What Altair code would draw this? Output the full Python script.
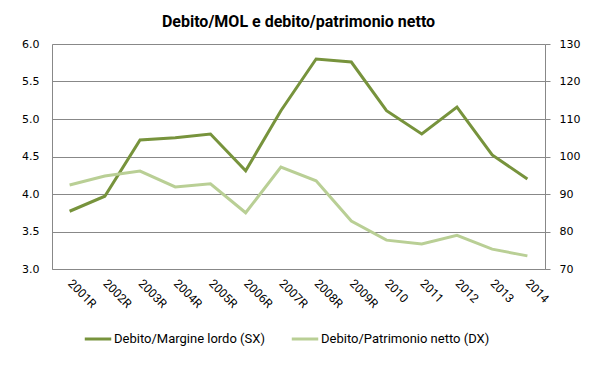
import altair as alt
import pandas as pd

years = ["2001R", "2002R", "2003R", "2004R", "2005R", "2006R", "2007R",
         "2008R", "2009R", "2010", "2011", "2012", "2013", "2014"]
debito_mol = [3.77, 3.97, 4.72, 4.75, 4.80, 4.31, 5.11, 5.80, 5.76, 5.11, 4.80, 5.16, 4.52, 4.20]
debito_pn = [92.4, 94.8, 96.1, 91.9, 92.7, 85.0, 97.2, 93.5, 82.8, 77.7, 76.7, 79.0, 75.3, 73.5]

s1 = "Debito/Margine lordo (SX)"
s2 = "Debito/Patrimonio netto (DX)"
c1 = "#77933C"
c2 = "#B9CF95"

df1 = pd.DataFrame({"anno": years, "valore": debito_mol, "serie": s1})
df2 = pd.DataFrame({"anno": years, "valore": debito_pn, "serie": s2})

color = alt.Color("serie:N", scale=alt.Scale(domain=[s1, s2], range=[c1, c2]),
                  legend=alt.Legend(title=None, orient="none", direction="horizontal",
                                    legendX=31, legendY=280, symbolType="stroke",
                                    symbolStrokeWidth=3, symbolSize=700,
                                    labelFont="Roboto", labelFontSize=13, labelLimit=400,
                                    labelColor="#000000", columnPadding=20, labelOffset=1))

xenc = alt.X("anno:N", sort=years, title=None,
             axis=alt.Axis(labelAngle=45, labelAlign="left", labelBaseline="middle",
                           labelFont="Roboto", labelFontSize=12, labelColor="#000000",
                           ticks=False, domainColor="#888888", labelPadding=12))

left = alt.Chart(df1).mark_line(strokeWidth=3).encode(
    x=xenc,
    y=alt.Y("valore:Q", scale=alt.Scale(domain=[3, 6], nice=False, zero=False), title=None,
            axis=alt.Axis(values=[3, 3.5, 4, 4.5, 5, 5.5, 6], format=".1f", ticks=False,
                          domainColor="#888888", gridColor="#888888", grid=True,
                          labelFont="DejaVu Sans", labelFontSize=11, labelColor="#000000",
                          labelPadding=13)),
    color=color,
)

right = alt.Chart(df2).mark_line(strokeWidth=3).encode(
    x=xenc,
    y=alt.Y("valore:Q", scale=alt.Scale(domain=[70, 130], nice=False, zero=False), title=None,
            axis=alt.Axis(orient="right", values=[70, 80, 90, 100, 110, 120, 130], grid=False,
                          ticks=True, tickSize=5, tickColor="#888888", domainColor="#888888",
                          labelFont="DejaVu Sans", labelFontSize=11, labelColor="#000000",
                          labelPadding=9)),
    color=color,
)

chart = alt.layer(left, right).resolve_scale(y="independent").properties(
    width=493, height=225,
    autosize=alt.AutoSizeParams(type="none"),
    padding={"left": 44, "top": 36, "right": 46, "bottom": 88},
    title=alt.TitleParams("Debito/MOL e debito/patrimonio netto", anchor="middle",
                          font="Roboto", fontSize=16, fontWeight="bold",
                          color="#000000", offset=8),
).configure_view(stroke=None).configure(background="white")

chart.save("out.html", embed_options={"renderer": "svg", "actions": False})
